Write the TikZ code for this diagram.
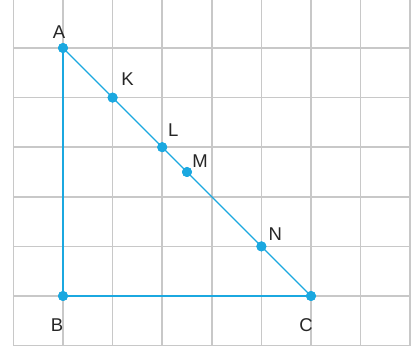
\documentclass[tikz,border=0pt]{standalone}
\usepackage{fontspec}
\setmainfont{Liberation Sans}
\definecolor{gridgray}{HTML}{C8C8C8}
\definecolor{ptblue}{HTML}{1BA8E0}
\tikzset{
  gridline/.style={draw=gridgray, line width=1.5pt},
  side/.style={draw=ptblue, line width=2pt},
  hyp/.style={draw=ptblue, line width=1.2pt},
  pt/.style={circle, fill=ptblue, inner sep=0pt, minimum size=10pt},
  lab/.style={font=\fontsize{18.5}{20}\selectfont, text=black!85, inner sep=0pt}
}
\begin{document}
\begin{tikzpicture}[x=49.6pt,y=49.6pt]
\useasboundingbox (-63pt,-56pt) rectangle (349pt,296pt);
\fill[white] (-63pt,-56pt) rectangle (349pt,296pt);
\foreach \i in {-1,...,7} \draw[gridline] (\i,-1) -- (\i,296pt);
\foreach \j in {-1,...,5} \draw[gridline] (-1,\j) -- (7,\j);
\node[pt] (A) at (0,5) {};
\node[pt] (B) at (0,0) {};
\node[pt] (C) at (5,0) {};
\node[pt] (K) at (1,4) {};
\node[pt] (L) at (2,3) {};
\node[pt] (M) at (2.5,2.5) {};
\node[pt] (N) at (4,1) {};
\draw[side] (A.center) -- (B.center) -- (C.center);
\draw[hyp] (A.center) -- (C.center);
\foreach \p in {A,B,C,K,L,M,N} \fill[ptblue] (\p) circle (5pt);
\node[lab] (lA) at ([shift={(-4pt,16pt)}]A) {A};
\node[lab] (lK) at ([shift={(15pt,18pt)}]K) {K};
\node[lab] (lL) at ([shift={(11pt,17pt)}]L) {L};
\node[lab] (lM) at ([shift={(13pt,11pt)}]M) {M};
\node[lab] (lN) at ([shift={(14pt,12pt)}]N) {N};
\node[lab] (lB) at ([shift={(-6pt,-29pt)}]B) {B};
\node[lab] (lC) at ([shift={(-5pt,-29pt)}]C) {C};
\end{tikzpicture}
\end{document}
